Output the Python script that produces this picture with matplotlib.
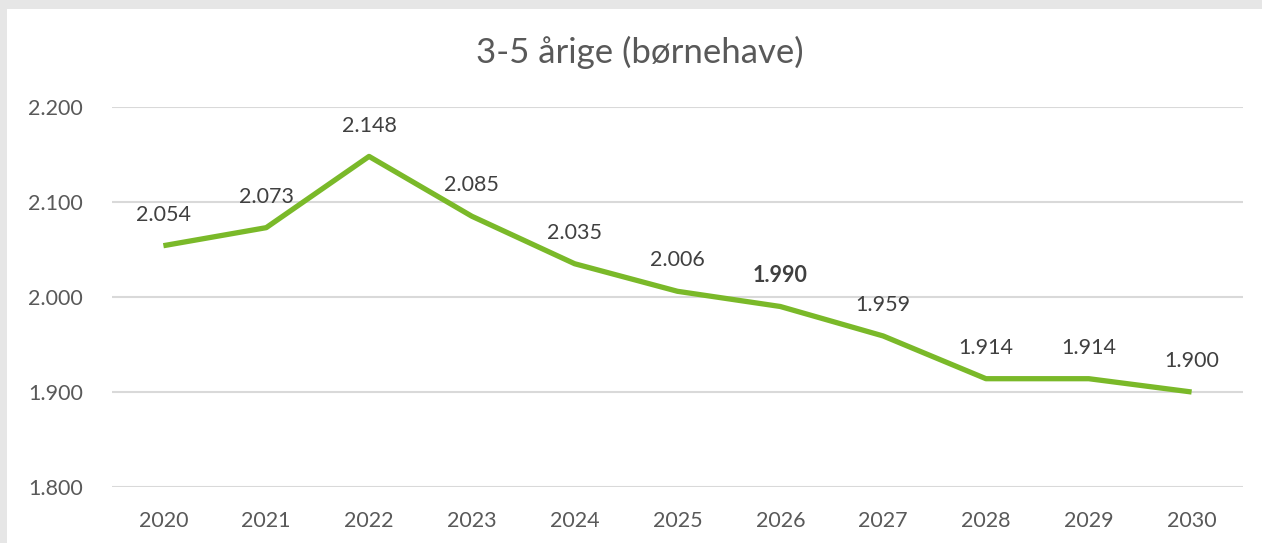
import matplotlib.pyplot as plt
from matplotlib.patches import Rectangle

# Data
aar = ['2020', '2021', '2022', '2023', '2024', '2025', '2026', '2027', '2028', '2029', '2030']
boern = [2054, 2073, 2148, 2085, 2035, 2006, 1990, 1959, 1914, 1914, 1900]
fed_label = '2026'

plt.rcParams['font.family'] = ['Lato', 'DejaVu Sans']

fig = plt.figure(figsize=(12.62, 5.43), dpi=100)
fig.patch.set_facecolor('#e6e6e6')
# white chart area (grey frame on top and left)
fig.patches.append(Rectangle((7 / 1262, 0), 1, 1 - 9 / 543, transform=fig.transFigure,
                             facecolor='white', edgecolor='none', zorder=-5))

ax = fig.add_axes([112 / 1262, 1 - 487 / 543, (1243 - 112) / 1262, 380 / 543])
ax.set_facecolor('none')
ax.set_zorder(2)

x = list(range(len(aar)))
ax.plot(x, boern, color='#7ab929', linewidth=3.8, solid_capstyle='butt', zorder=3)

for xi, a, v in zip(x, aar, boern):
    tekst = f'{v / 1000:.3f}'
    ax.annotate(tekst, (xi, v), xytext=(0, 15), textcoords='offset points',
                ha='center', va='bottom', fontsize=15.5, color='#404040',
                fontweight='bold' if a == fed_label else 'normal')

ax.set_xlim(-0.5, len(aar) - 0.5)
ax.set_ylim(1800, 2200)
ax.set_yticks([1800, 1900, 2000, 2100, 2200])
ax.set_yticklabels(['1.800', '1.900', '2.000', '2.100', '2.200'])
ax.set_xticks(x)
ax.set_xticklabels(aar)
ax.tick_params(axis='both', length=0, labelsize=15.5, labelcolor='#595959')
ax.tick_params(axis='y', pad=21)
ax.tick_params(axis='x', pad=17)
ax.grid(axis='y', color='#d9d9d9', linewidth=1.5)
ax.set_axisbelow(True)
for s in ax.spines.values():
    s.set_visible(False)

fig.text(640 / 1262, 1 - 52 / 543, '3-5 årige (børnehave)', ha='center', va='center',
         fontsize=25, color='#595959', zorder=3)

fig.savefig('out.png', dpi=100, facecolor=fig.get_facecolor())
